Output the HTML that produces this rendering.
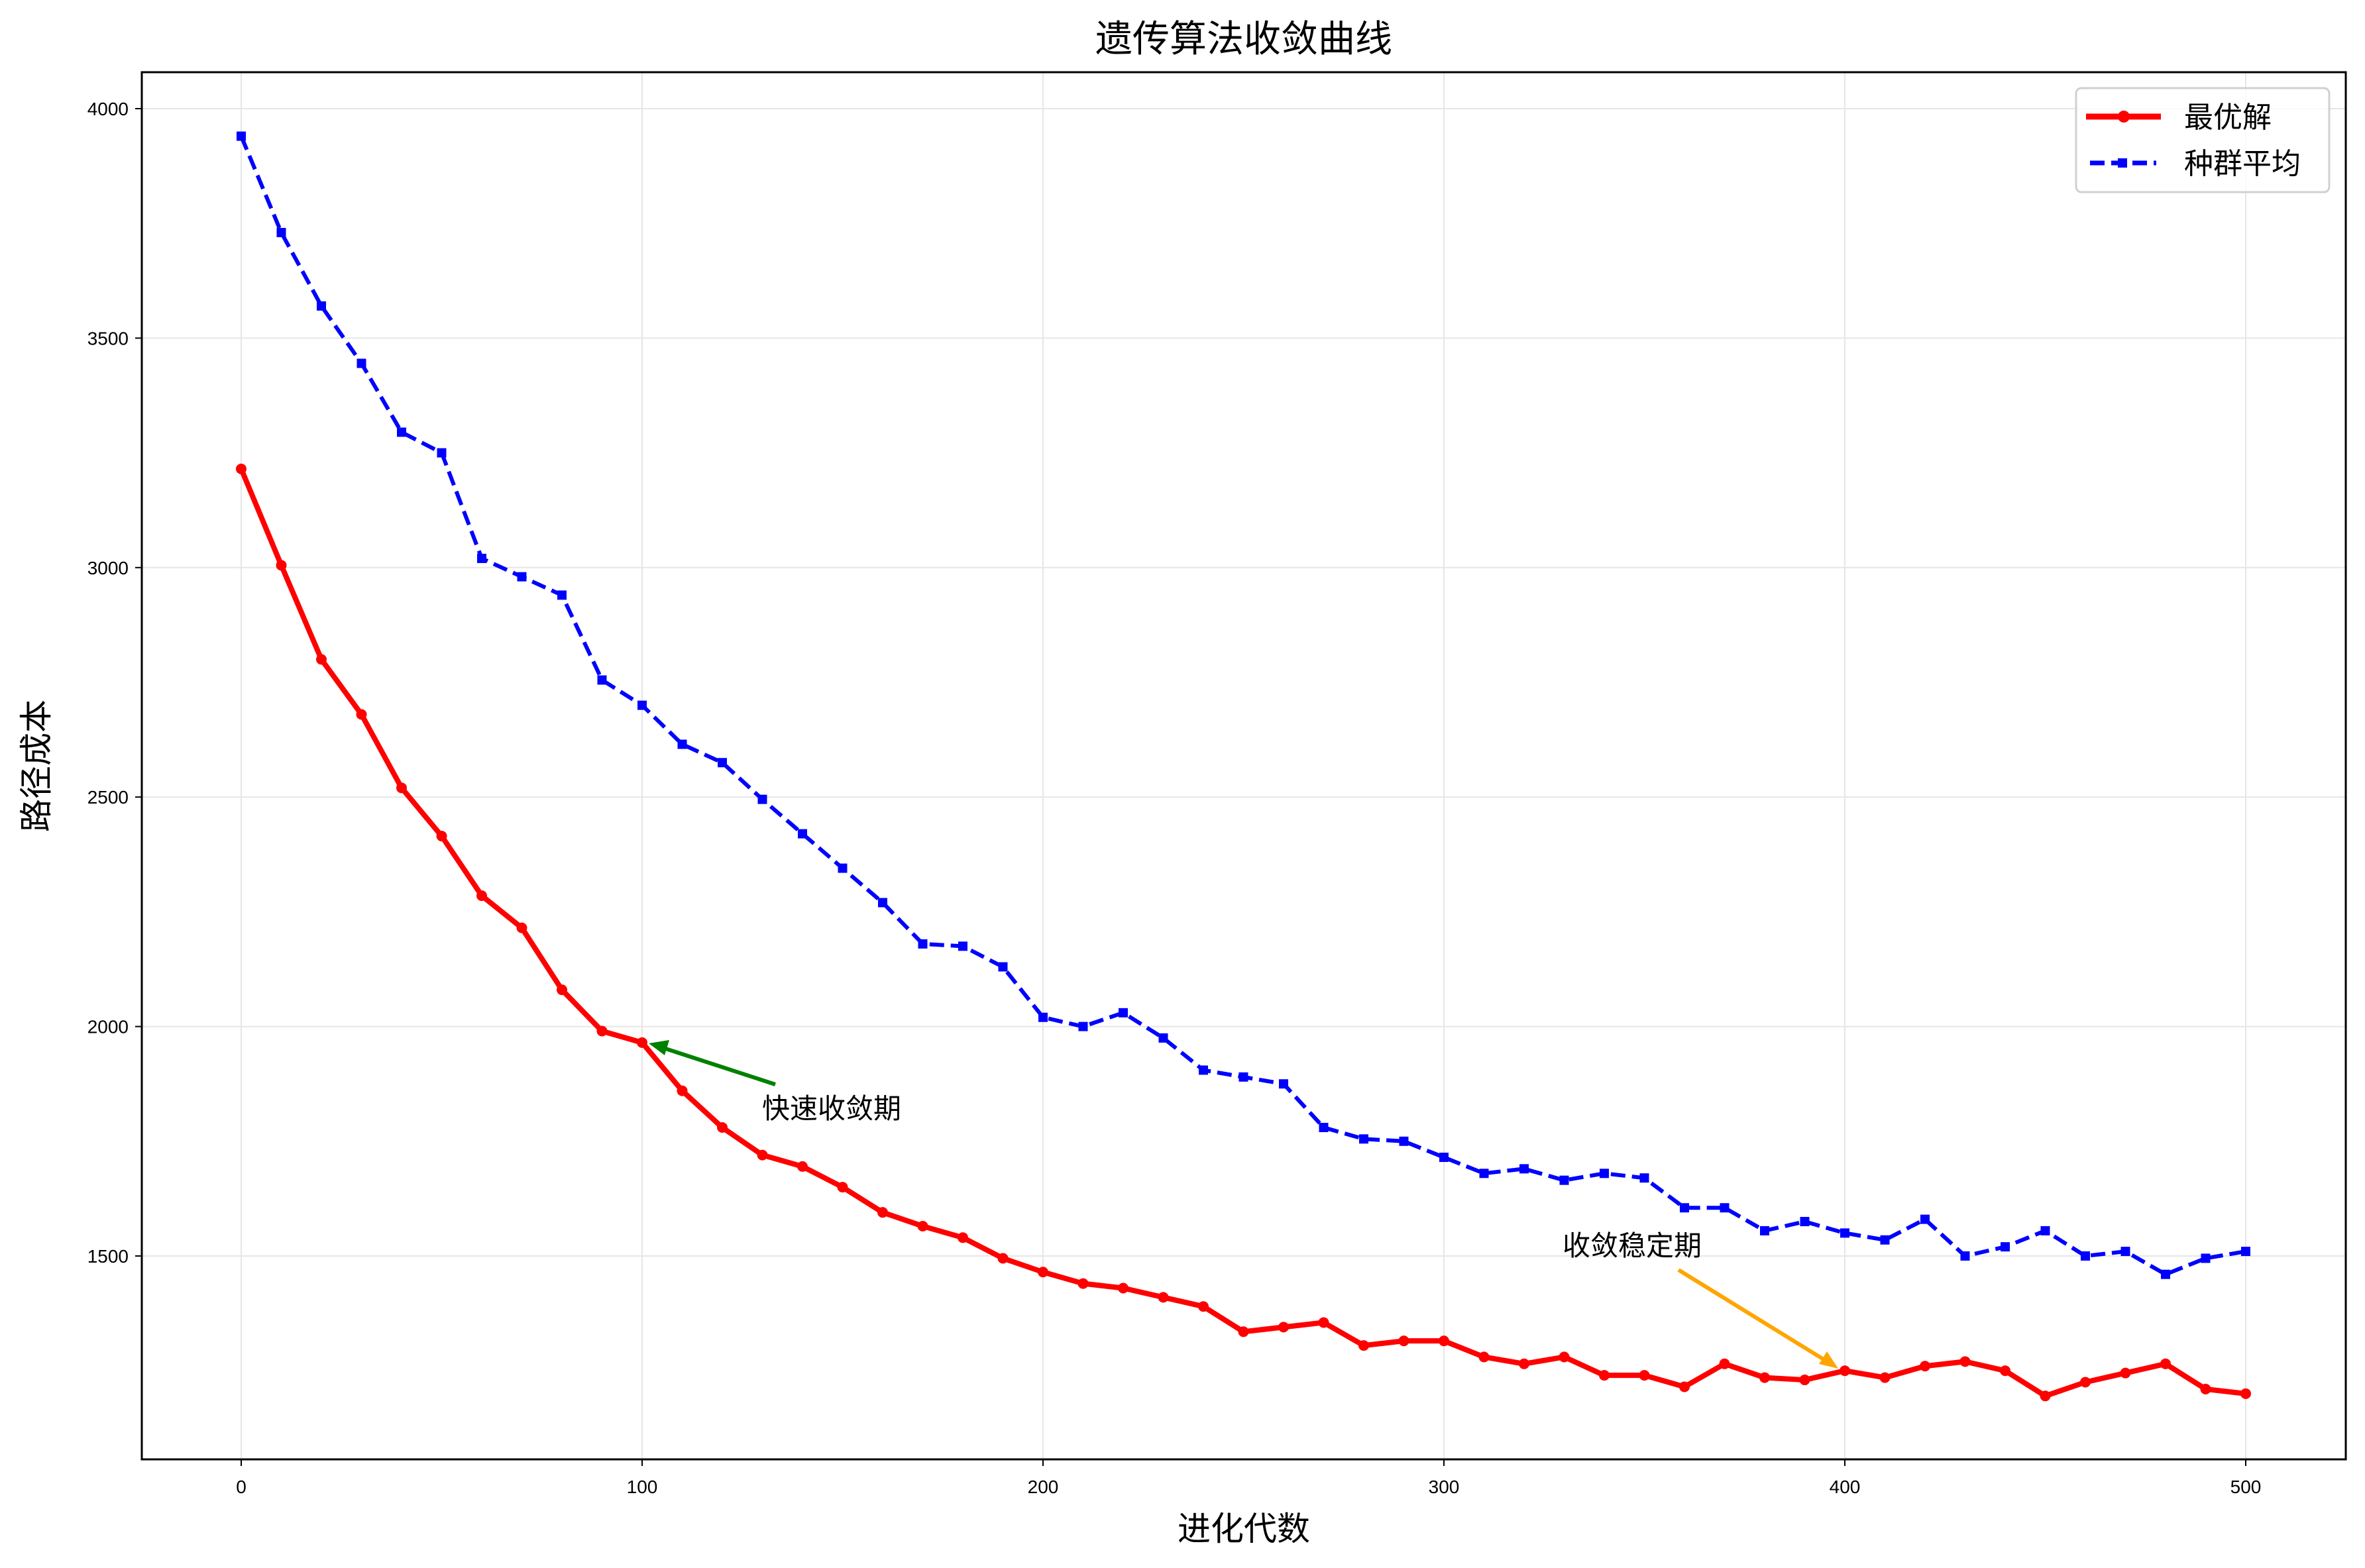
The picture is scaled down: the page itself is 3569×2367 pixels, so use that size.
<!DOCTYPE html>
<html><head><meta charset="utf-8"><style>
body{margin:0;background:#fff}
svg{display:block;font-family:"Liberation Sans","Noto Sans CJK SC",sans-serif}
</style></head><body>
<svg width="3569" height="2367" viewBox="0 0 3569 2367" id="chart">
<g id="grid"></g>
<g id="series"></g>
<rect x="214" y="109" width="3326" height="2094" fill="none" stroke="#000" stroke-width="3"/>
<g id="ticks"></g>
<text x="1877" y="78" font-size="56" text-anchor="middle">遗传算法收敛曲线</text>
<text x="1877" y="2325" font-size="50" text-anchor="middle">进化代数</text>
<text transform="translate(72,1156) rotate(-90)" font-size="50" text-anchor="middle">路径成本</text>
<g>
<line x1="1170" y1="1637" x2="992" y2="1579" stroke="green" stroke-width="6"/>
<polygon points="979,1575 1010,1570 1003,1593" fill="green"/>
<text x="1150" y="1688" font-size="42">快速收敛期</text>
</g>
<g>
<line x1="2533" y1="1917" x2="2760" y2="2057" stroke="orange" stroke-width="6"/>
<polygon points="2774,2066 2745,2059 2757,2040" fill="orange"/>
<text x="2358" y="1895" font-size="42">收敛稳定期</text>
</g>
<g>
<rect x="3133" y="133" width="382" height="157" rx="8" fill="#fff" fill-opacity="0.8" stroke="#d0d0d0" stroke-width="3"/>
<g>
<line x1="3148" y1="176" x2="3261" y2="176" stroke="red" stroke-width="9"/>
<circle cx="3205" cy="176" r="9" fill="red"/>
<text x="3296" y="192" font-size="44">最优解</text></g>
<g>
<line x1="3154" y1="246" x2="3254" y2="246" stroke="blue" stroke-width="7" stroke-dasharray="22,10"/>
<rect x="3196" y="239" width="14" height="14" fill="blue"/>
<text x="3296" y="262" font-size="44">种群平均</text></g>
</g>
</svg>
<script>
const generations=[0,10,20,30,40,50,60,70,80,90,100,110,120,130,140,150,160,170,180,190,200,210,220,230,240,250,260,270,280,290,300,310,320,330,340,350,360,370,380,390,400,410,420,430,440,450,460,470,480,490,500];
const bestCost=[3215,3005,2800,2680,2520,2415,2285,2215,2080,1990,1965,1860,1780,1720,1695,1650,1595,1565,1540,1495,1465,1440,1430,1410,1390,1335,1345,1355,1305,1315,1315,1280,1265,1280,1240,1240,1215,1265,1235,1230,1250,1235,1260,1270,1250,1195,1225,1245,1265,1210,1200];
const avgCost=[3940,3730,3570,3445,3295,3250,3020,2980,2940,2755,2700,2615,2575,2495,2420,2345,2270,2180,2175,2130,2020,2000,2030,1975,1905,1890,1875,1780,1755,1750,1715,1680,1690,1665,1680,1670,1605,1605,1555,1575,1550,1535,1580,1500,1520,1555,1500,1510,1460,1495,1510];
const xTicks=[0,100,200,300,400,500];
const yTicks=[1500,2000,2500,3000,3500,4000];
const NS='http://www.w3.org/2000/svg';
const X=v=>364+(v-0)*(3389-364)/500;
const Y=v=>1896-(v-1500)*(1896-164)/2500;
function mk(t,a,p){const e=document.createElementNS(NS,t);for(const k in a)e.setAttribute(k,a[k]);p.appendChild(e);return e;}
const grid=document.getElementById('grid'),ticks=document.getElementById('ticks'),ser=document.getElementById('series');
xTicks.forEach(v=>{const x=X(v);
 const g=mk('line',{x1:x,x2:x,y1:109,y2:2203,stroke:'#e6e6e6','stroke-width':2},grid);
 
 mk('line',{x1:x,x2:x,y1:2203,y2:2213,stroke:'#000','stroke-width':2},ticks);
 const t=mk('text',{x:x,y:2254,'font-size':28,'text-anchor':'middle'},ticks);t.textContent=v;
 });
yTicks.forEach(v=>{const y=Y(v);
 const g=mk('line',{x1:214,x2:3540,y1:y,y2:y,stroke:'#e6e6e6','stroke-width':2},grid);
 
 mk('line',{x1:204,x2:214,y1:y,y2:y,stroke:'#000','stroke-width':2},ticks);
 const t=mk('text',{x:194,y:y+10,'font-size':28,'text-anchor':'end'},ticks);t.textContent=v;
 });
const avgPts=generations.map((g,i)=>X(g)+','+Y(avgCost[i])).join(' ');
const al=mk('polyline',{points:avgPts,fill:'none',stroke:'blue','stroke-width':6,'stroke-dasharray':'22,10'},ser);

generations.forEach((g,i)=>{const r=mk('rect',{x:X(g)-7,y:Y(avgCost[i])-7,width:14,height:14,fill:'blue'},ser);
 });
const bestPts=generations.map((g,i)=>X(g)+','+Y(bestCost[i])).join(' ');
const bl=mk('polyline',{points:bestPts,fill:'none',stroke:'red','stroke-width':8,'stroke-linejoin':'round'},ser);

generations.forEach((g,i)=>{const c=mk('circle',{cx:X(g),cy:Y(bestCost[i]),r:8,fill:'red'},ser);
 });
</script>
</body></html>
